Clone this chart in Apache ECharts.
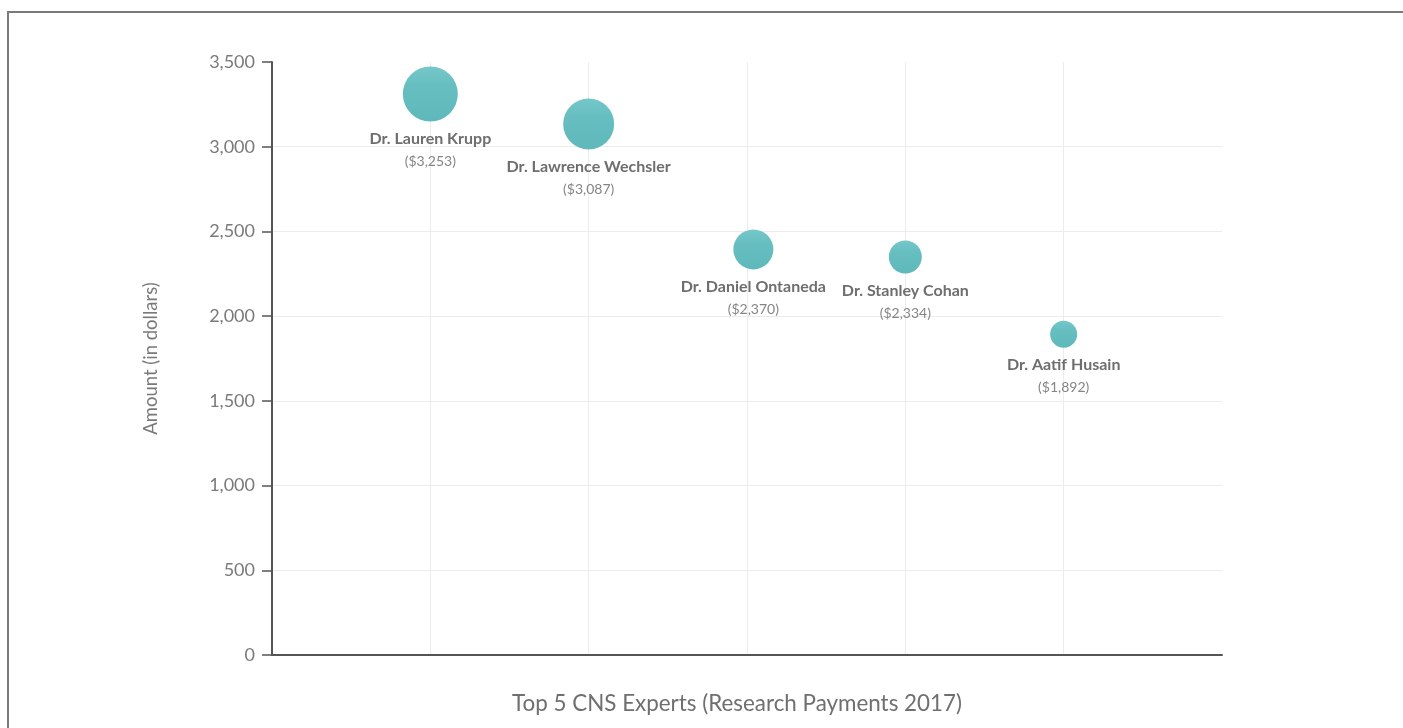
<!DOCTYPE html>
<html>
<head>
<meta charset="utf-8">
<script src="https://cdn.jsdelivr.net/npm/echarts@6/dist/echarts.min.js"></script>
<style>
  html, body { margin: 0; padding: 0; background: #fff; overflow: hidden; }
  #frame { position: absolute; left: 7px; top: 11px; width: 3000px; height: 3000px;
           border-left: 2px solid #7a7a7a; border-top: 2px solid #7a7a7a; }
  #chart { position: absolute; left: 0; top: 0; width: 1403px; height: 728px; }
</style>
</head>
<body>
<div id="frame"></div>
<div id="chart"></div>
<script>
// Data
const names = ['Dr. Lauren Krupp', 'Dr. Lawrence Wechsler', 'Dr. Daniel Ontaneda', 'Dr. Stanley Cohan', 'Dr. Aatif Husain'];
const amounts = [3253, 3087, 2370, 2334, 1892];          // label values
const xPositions = [1, 2, 3.04, 4, 5];                     // horizontal slot of each bubble
const yPositions = [3311, 3134, 2394, 2349, 1893];         // plotted height of each bubble
const bubbleWeights = [55, 51, 40, 33, 27];                // bubble diameter (third dimension)
const yTicks = [0, 500, 1000, 1500, 2000, 2500, 3000, 3500];
const chartTitle = 'Top 5 CNS Experts (Research Payments 2017)';
const yAxisTitle = 'Amount (in dollars)';

const fmt = v => v.toLocaleString('en-US');

const seriesData = names.map((n, i) => ({
  value: [xPositions[i], yPositions[i], bubbleWeights[i]],
  name: n,
  amount: amounts[i]
}));

const chart = echarts.init(document.getElementById('chart'), null, { renderer: 'canvas' });
chart.setOption({
  backgroundColor: 'transparent',
  animation: false,
  textStyle: { fontFamily: 'Lato' },
  grid: { left: 272, right: 181, top: 62, bottom: 73, containLabel: false },
  xAxis: {
    type: 'value', min: 0, max: 6, interval: 1,
    axisLine: { show: true, lineStyle: { color: '#555555', width: 2 } },
    axisTick: { show: false },
    axisLabel: { show: false },
    splitLine: { show: true, showMinLine: false, showMaxLine: false, lineStyle: { color: '#ececec', width: 1 } }
  },
  yAxis: {
    type: 'value', min: yTicks[0], max: yTicks[yTicks.length - 1], interval: yTicks[1] - yTicks[0],
    name: yAxisTitle, nameLocation: 'middle', nameGap: 111,
    nameTextStyle: { color: '#7a7a7a', fontSize: 18.5, fontFamily: 'Lato', fontWeight: 'normal', padding: [0, 0, 0, 0] },
    axisLine: { show: true, onZero: false, lineStyle: { color: '#555555', width: 2 } },
    axisTick: { show: true, length: 10, lineStyle: { color: '#555555', width: 1.5 } },
    axisLabel: { color: '#7a7a7a', fontSize: 18, margin: 17, formatter: v => fmt(v) },
    splitLine: { show: true, showMinLine: false, showMaxLine: false, lineStyle: { color: '#ececec', width: 1 } }
  },
  graphic: [{
    type: 'text', x: 737, y: 704, z: 10,
    style: { text: chartTitle, fill: '#6f6f6f', fontSize: 22.4, fontFamily: 'Lato',
             align: 'center', verticalAlign: 'middle' }
  }],
  series: [{
    type: 'scatter',
    data: seriesData,
    symbolSize: d => d[2],
    itemStyle: {
      color: {
        type: 'linear', x: 0, y: 0, x2: 0, y2: 1,
        colorStops: [
          { offset: 0, color: '#76c7c9' },
          { offset: 0.35, color: '#66bec0' },
          { offset: 1, color: '#5fb8ba' }
        ]
      },
      opacity: 1
    },
    label: {
      show: true, position: 'bottom', distance: 6,
      formatter: p => '{n|' + p.data.name + '}\n{v|($' + fmt(p.data.amount) + ')}',
      rich: {
        n: { fontFamily: 'Lato', fontWeight: 'bold', fontSize: 16, color: '#6e6e6e', lineHeight: 22, align: 'center' },
        v: { fontFamily: 'Lato', fontSize: 14, color: '#858585', lineHeight: 24, align: 'center' }
      }
    },
    emphasis: { disabled: true }
  }]
});
</script>
</body>
</html>
